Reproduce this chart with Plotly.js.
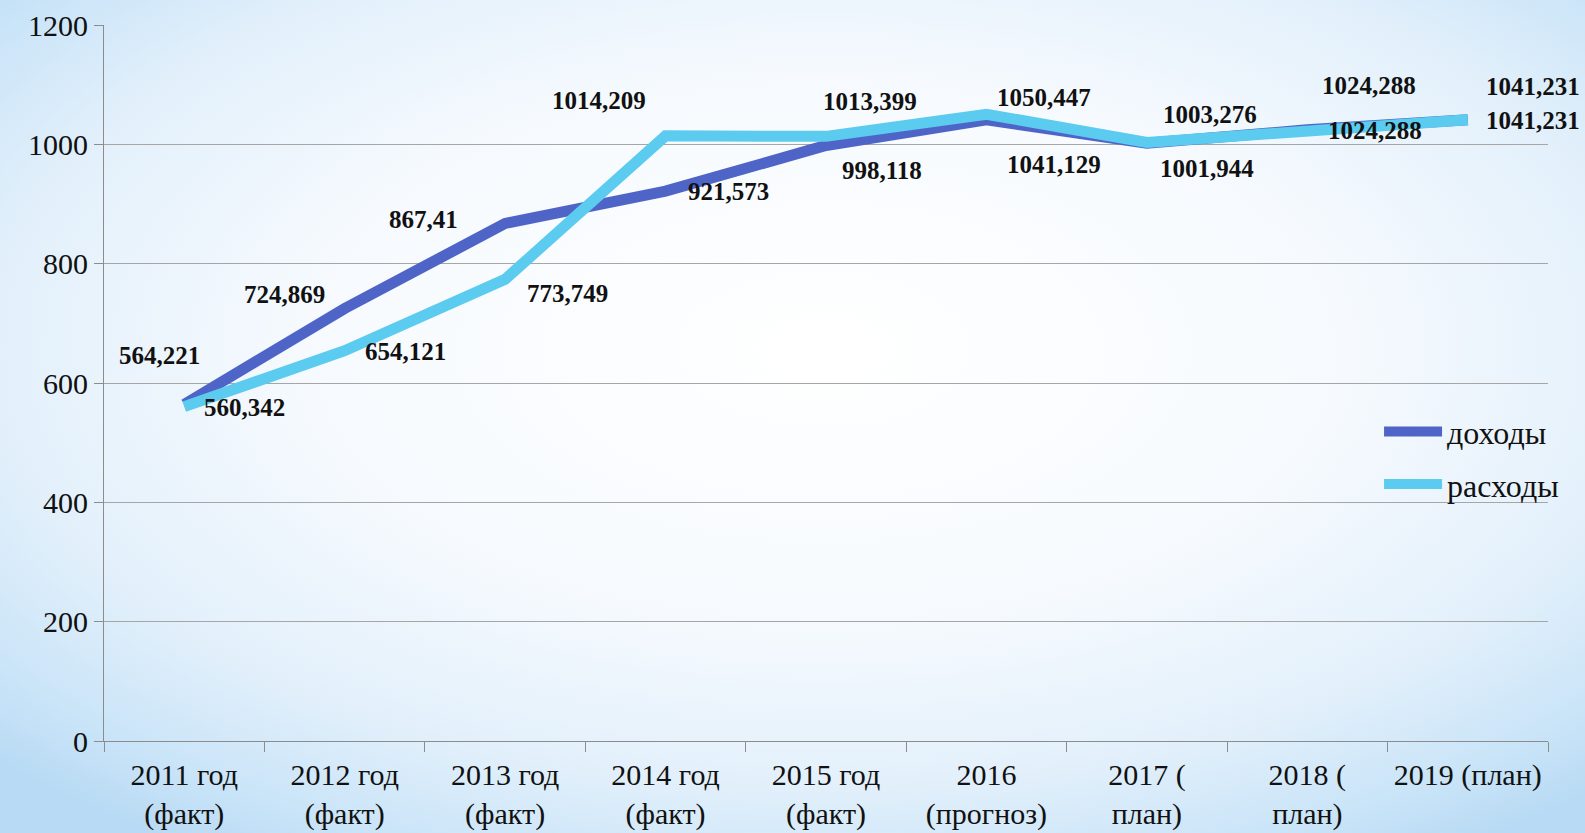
<!DOCTYPE html>
<html>
<head>
<meta charset="utf-8">
<script src="https://cdn.plot.ly/plotly-3.0.1.min.js"></script>
<style>
  html, body { margin: 0; padding: 0; width: 1585px; height: 833px; overflow: hidden; }
  body {
    background:
      radial-gradient(ellipse 72% 72% at 52% 42%, #ffffff 0%, #f6fafe 45%, #e3f0fb 72%, #c9e4f8 90%, #b8daf4 100%);
  }
  #chart { width: 1585px; height: 833px; }
</style>
</head>
<body>
<div id="chart"></div>
<script>
// ---- data ----
const categories = [
  "2011 год<br>(факт)", "2012 год<br>(факт)", "2013 год<br>(факт)",
  "2014 год<br>(факт)", "2015 год<br>(факт)", "2016<br>(прогноз)",
  "2017 (<br>план)", "2018 (<br>план)", "2019 (план)"
];
const dohody  = [564.221, 724.869, 867.41, 921.573, 998.118, 1041.129, 1001.944, 1024.288, 1041.231];
const rashody = [560.342, 654.121, 773.749, 1014.209, 1013.399, 1050.447, 1003.276, 1024.288, 1041.231];
const seriesNames = ["доходы", "расходы"];
const yTicks = [0, 200, 400, 600, 800, 1000, 1200];

// ---- label placement (pixel offsets, style only) ----
const shiftDohody  = [[-24,-48],[-60,-14],[-81,-4],[62,0],[55,25],[67,44],[59,25],[67,1],[65,1]];
const shiftRashody = [[60,1],[60,1],[62,14],[-66,-35],[44,-34],[57,-17],[62,-28],[61,-44],[65,-33]];

const colDark = "#4f64c7";
const colLight = "#5bcbf0";
const serif = "Times New Roman, Liberation Serif, serif";

function fmt(v) { return String(v).replace('.', ','); }

const traces = [
  { x: categories, y: dohody, name: seriesNames[0], type: "scatter", mode: "lines",
    line: { color: colDark, width: 11 }, legendgroup: "a", hoverinfo: "skip" },
  { x: categories, y: rashody, name: seriesNames[1], type: "scatter", mode: "lines",
    line: { color: colLight, width: 11 }, legendgroup: "b", hoverinfo: "skip" }
];

const k = 1.011;
const annotations = [];
function addLabels(vals, shifts) {
  vals.forEach((v, i) => {
    annotations.push({
      x: categories[i], y: v, xref: "x", yref: "y",
      text: "<b>" + fmt(v) + "</b>", showarrow: false,
      xshift: shifts[i][0] * k, yshift: -shifts[i][1] * k,
      font: { family: serif, size: 25, color: "#111" }
    });
  });
}
addLabels(dohody, shiftDohody);
addLabels(rashody, shiftRashody);

const layout = {
  width: 1585, height: 833,
  margin: { l: 104, r: 37, t: 25, b: 92 },
  paper_bgcolor: "rgba(0,0,0,0)",
  plot_bgcolor: "rgba(0,0,0,0)",
  showlegend: true,
  font: { family: serif },
  legend: {
    x: 0.883, y: 0.395, xanchor: "left", yanchor: "middle",
    bgcolor: "rgba(0,0,0,0)",
    font: { family: serif, size: 32, color: "#111" },
    itemwidth: 58, traceorder: "grouped", tracegroupgap: 8
  },
  xaxis: {
    type: "category", tickvals: categories, ticktext: categories,
    showgrid: false, showline: true, linecolor: "#8c8c8c", linewidth: 1,
    ticks: "outside", tickson: "boundaries", ticklen: 10, tickcolor: "#8c8c8c",
    ticklabelstandoff: 7, tickangle: 0, automargin: false,
    tickfont: { family: serif, size: 30, color: "#111" },
    range: [-0.5, 8.5], fixedrange: true
  },
  yaxis: {
    range: [0, 1200], tickvals: yTicks, ticktext: yTicks.map(String),
    showgrid: true, gridcolor: "#a6a6a6", gridwidth: 1,
    zeroline: false, showline: true, linecolor: "#8c8c8c", linewidth: 1,
    ticks: "outside", ticklen: 9, tickcolor: "#8c8c8c",
    tickfont: { family: serif, size: 30, color: "#111" },
    fixedrange: true
  },
  annotations: annotations
};

Plotly.newPlot("chart", traces, layout, { displayModeBar: false, staticPlot: true });
</script>
</body>
</html>
